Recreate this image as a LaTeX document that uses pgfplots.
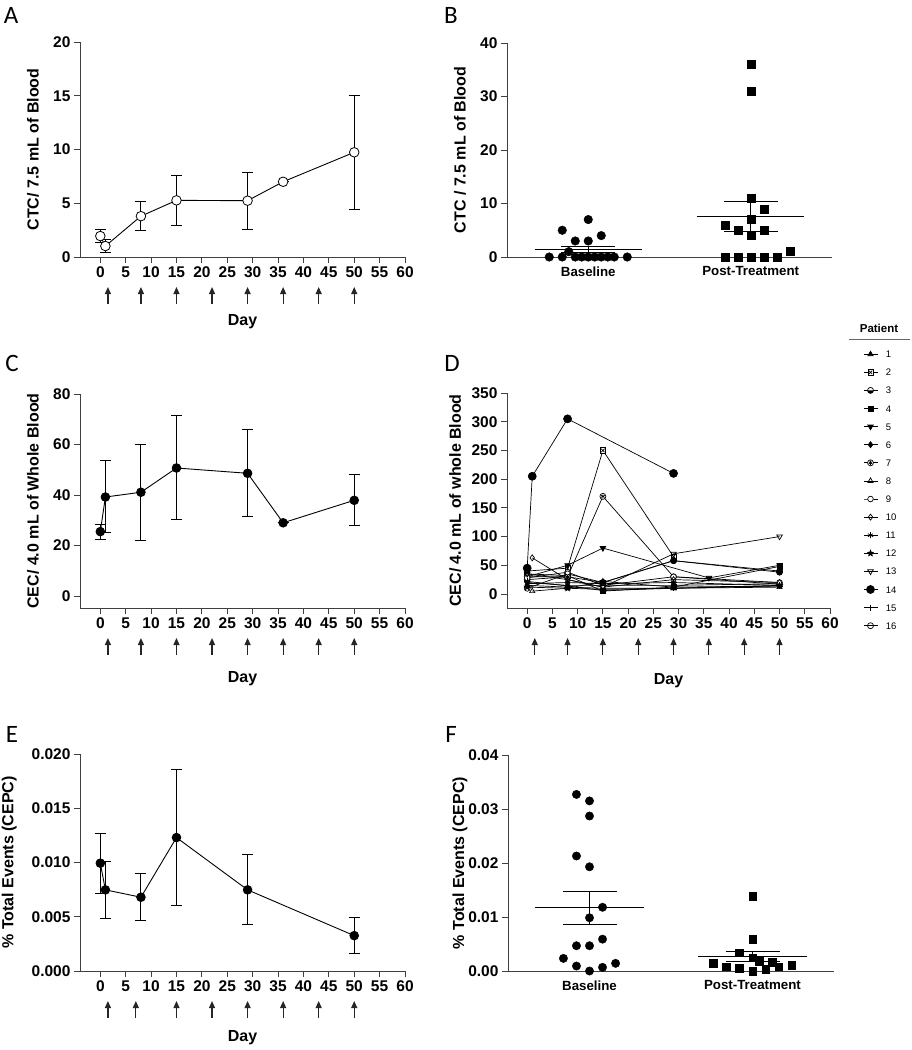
\documentclass[border=0pt]{standalone}
\usepackage{fontspec}
\setmainfont{Liberation Sans}
\newfontfamily\letterfont{Carlito}
\usepackage{pgfplots}
\pgfplotsset{compat=1.18}
\usetikzlibrary{arrows.meta}

% custom marks
\pgfdeclareplotmark{boxx}{%
  \pgfpathrectangle{\pgfpoint{-\pgfplotmarksize}{-\pgfplotmarksize}}{\pgfpoint{2\pgfplotmarksize}{2\pgfplotmarksize}}%
  \pgfusepathqfillstroke
  \pgfpathmoveto{\pgfpoint{-.65\pgfplotmarksize}{-.65\pgfplotmarksize}}\pgfpathlineto{\pgfpoint{.65\pgfplotmarksize}{.65\pgfplotmarksize}}%
  \pgfpathmoveto{\pgfpoint{-.65\pgfplotmarksize}{.65\pgfplotmarksize}}\pgfpathlineto{\pgfpoint{.65\pgfplotmarksize}{-.65\pgfplotmarksize}}%
  \pgfusepathqstroke}
\pgfdeclareplotmark{halfcirc}{%
  \pgfpathcircle{\pgfpointorigin}{\pgfplotmarksize}\pgfusepathqfillstroke
  \pgfpathmoveto{\pgfpoint{-\pgfplotmarksize}{0pt}}%
  \pgfpatharc{180}{360}{\pgfplotmarksize}\pgfpathclose
  \pgfsetfillcolor{black}\pgfusepathqfill}
\pgfdeclareplotmark{circstar}{%
  \pgfpathcircle{\pgfpointorigin}{\pgfplotmarksize}\pgfusepathqfillstroke
  {\pgfplotmarksize=0.7\pgfplotmarksize\pgfuseplotmark{asterisk}}}
\pgfdeclareplotmark{fstar}{%
  \pgfpathmoveto{\pgfpointpolar{90}{\pgfplotmarksize}}%
  \pgfpathlineto{\pgfpointpolar{126}{.45\pgfplotmarksize}}%
  \pgfpathlineto{\pgfpointpolar{162}{\pgfplotmarksize}}%
  \pgfpathlineto{\pgfpointpolar{198}{.45\pgfplotmarksize}}%
  \pgfpathlineto{\pgfpointpolar{234}{\pgfplotmarksize}}%
  \pgfpathlineto{\pgfpointpolar{270}{.45\pgfplotmarksize}}%
  \pgfpathlineto{\pgfpointpolar{306}{\pgfplotmarksize}}%
  \pgfpathlineto{\pgfpointpolar{342}{.45\pgfplotmarksize}}%
  \pgfpathlineto{\pgfpointpolar{18}{\pgfplotmarksize}}%
  \pgfpathlineto{\pgfpointpolar{54}{.45\pgfplotmarksize}}%
  \pgfpathclose\pgfusepathqfillstroke}

\newcommand{\dosearrows}[2]{%
  \pgfplotsinvokeforeach{#2}{%
    \draw[line width=1.2pt, black!85, -{Triangle[length=7pt,width=6pt]}]
      ([yshift=-47pt]axis cs:##1,#1) -- ([yshift=-30pt]axis cs:##1,#1);}}

\pgfplotsset{
  gp/.style={
    scale only axis, anchor=south west,
    axis x line*=bottom, axis y line*=left,
    axis line style={-, line width=0.9pt, black!75},
    every tick/.style={line width=0.9pt, black!75},
    tick align=outside, major tick length=6pt,
    ticklabel style={font=\fontsize{15.5}{15.5}\selectfont\bfseries},
    label style={font=\fontsize{16}{16}\selectfont\bfseries},
    /pgf/number format/assume math mode=true,
    clip=false, scaled ticks=false,
  },
  dayaxis/.style={
    xmin=-4, xmax=60, xtick={0,5,...,60},
  },
  catx/.style={
    xmin=-0.5, xmax=1.5, xtick={0,1},
    xticklabels={Baseline,Post-Treatment},
    x tick label style={font=\fontsize{13.3}{13.3}\selectfont\bfseries},
    major x tick style={draw=none},
  },
  ebar/.style={
    error bars/.cd, y dir=both, y explicit,
    error bar style={line width=0.9pt, black},
    error mark options={rotate=90, mark size=#1, line width=0.9pt, black},
  },
}

\begin{document}
\begin{tikzpicture}
\path[use as bounding box] (0pt,0pt) rectangle (912pt,-1050pt);

% panel letters
\node[font=\letterfont\fontsize{25}{25}\selectfont] at (11pt,-15pt) {A};
\node[font=\letterfont\fontsize{25}{25}\selectfont] at (451pt,-15pt) {B};
\node[font=\letterfont\fontsize{25}{25}\selectfont] at (12pt,-363pt) {C};
\node[font=\letterfont\fontsize{25}{25}\selectfont] at (452pt,-363pt) {D};
\node[font=\letterfont\fontsize{25}{25}\selectfont] at (12pt,-734pt) {E};
\node[font=\letterfont\fontsize{25}{25}\selectfont] at (451pt,-734pt) {F};

% ---------------- A ----------------
\begin{axis}[gp, dayaxis, at={(80pt,-257pt)}, width=325pt, height=215pt,
  ymin=0, ymax=20, ytick={0,5,...,20},
  xlabel={Day}, ylabel={CTC/ 7.5 mL of Blood},
  xlabel style={at={(axis description cs:0.5,-0.302)}, anchor=center},
  ylabel style={at={(axis description cs:-0.145,0.5)}, anchor=center}]
\addplot[line width=0.9pt, black, mark=*, mark size=4.8pt,
  mark options={fill=white, line width=0.8pt}, ebar=5.5pt]
  table[x=x, y=y, y error plus=ep, y error minus=em] {
x y ep em
0 1.95 0.62 0.62
1 1.02 0.62 0.59
8 3.80 1.40 1.35
15 5.27 2.30 2.29
29 5.24 2.66 2.64
36 7.00 0 0
50 9.74 5.26 5.27
};
\dosearrows{0}{1.5,8,15,22,29,36,43,50}
\end{axis}

% ---------------- B ----------------
\begin{axis}[gp, catx, at={(507pt,-257pt)}, width=325pt, height=214pt,
  ymin=0, ymax=40, ytick={0,10,...,40},
  ylabel={CTC / 7.5 mL of Blood},
  ylabel style={at={(axis description cs:-0.145,0.5)}, anchor=center}]
\addplot[only marks, mark=*, mark size=4.3pt, black] coordinates {
(-0.24,0) (-0.16,0) (-0.08,0) (-0.04,0) (0,0) (0.04,0) (0.08,0) (0.12,0) (0.16,0) (0.24,0)
(-0.12,1) (-0.08,3) (0,3) (0.08,4) (-0.16,5) (0,7)};
\addplot[only marks, mark=square*, mark size=4pt, black] coordinates {
(1,36) (1,31) (1,11) (1.08,9) (1,7) (0.84,6) (0.92,5) (1.08,5) (1,4) (1.24,1)
(0.84,0) (0.92,0) (1,0) (1.08,0) (1.16,0)};
\addplot[line width=0.9pt, black] coordinates {(-0.33,1.44) (0.33,1.44)};
\addplot[line width=0.9pt, black] coordinates {(0.67,7.63) (1.33,7.63)};
\addplot[no marks, ebar=27pt] coordinates {(0,1.44) +- (0,0.5)};
\addplot[no marks, ebar=27pt] coordinates {(1,7.63) +- (0,2.8)};
\end{axis}

% ---------------- C ----------------
\begin{axis}[gp, dayaxis, at={(80pt,-608pt)}, width=325pt, height=214pt,
  ymin=-4.75, ymax=80, ytick={0,20,...,80},
  xlabel={Day}, ylabel={CEC/ 4.0 mL of Whole Blood},
  xlabel style={at={(axis description cs:0.5,-0.33)}, anchor=center},
  ylabel style={at={(axis description cs:-0.145,0.5)}, anchor=center}]
\addplot[line width=0.9pt, black, mark=*, mark size=4.3pt, ebar=5.5pt]
  table[x=x, y=y, y error plus=ep, y error minus=em] {
x y ep em
0 25.5 3.0 3.1
1 39.2 14.4 14.1
8 41.1 19.1 18.9
15 50.7 20.7 20.5
29 48.6 17.4 17.2
36 29.0 0 0
50 37.9 10.3 9.9
};
\dosearrows{-4.75}{1.5,8,15,22,29,36,43,50}
\end{axis}

% ---------------- D ----------------
\begin{axis}[gp, dayaxis, at={(507pt,-608pt)}, width=323pt, height=215pt,
  ymin=-24.4, ymax=350, ytick={0,50,...,350},
  xlabel={Day}, ylabel={CEC/ 4.0 mL of whole Blood},
  xlabel style={at={(axis description cs:0.5,-0.34)}, anchor=center},
  ylabel style={at={(axis description cs:-0.16,0.5)}, anchor=center},
  every axis plot/.append style={line width=0.7pt, black},
  legend style={at={(axis description cs:1.102,1.2047)}, anchor=north west,
    draw=none, fill=none, inner sep=0pt,
    font=\fontsize{9.5}{9.5}\selectfont,
    row sep=8.1pt, column sep=8pt,
    nodes={inner sep=0pt, text height=7pt, text depth=0pt}},
  legend cell align=left,
  legend image code/.code={\path[draw=none, fill=none] (0pt,-5pt) rectangle (14pt,5pt);
    \draw[mark repeat=2, mark phase=2, #1] plot coordinates {(0pt,0pt) (7pt,0pt) (14pt,0pt)};}]
\addplot[mark=triangle*, mark size=3pt, mark options={solid}] coordinates {(0,15) (8,12) (15,10) (29,10) (50,15)};
\addlegendentry{1}
\addplot[mark=boxx, mark size=2.6pt, mark options={solid, fill=white}] coordinates {(0,40) (8,45) (15,250) (29,65)};
\addlegendentry{2}
\addplot[mark=halfcirc, mark size=3pt, mark options={solid, fill=white}] coordinates {(0,25) (8,30) (15,20) (29,58) (50,38)};
\addlegendentry{3}
\addplot[mark=square*, mark size=2.6pt, mark options={solid}] coordinates {(0,35) (8,32) (15,5) (29,12) (50,48)};
\addlegendentry{4}
\addplot[mark=triangle*, mark size=3.2pt, mark options={solid, rotate=180}] coordinates {(0,30) (8,50) (15,80) (36,28) (50,50)};
\addlegendentry{5}
\addplot[mark=diamond*, mark size=3pt, mark options={solid}] coordinates {(0,20) (8,15) (15,15) (29,15) (50,18)};
\addlegendentry{6}
\addplot[mark=circstar, mark size=3pt, mark options={solid, fill=white}] coordinates {(0,30) (8,30) (15,170) (29,30) (50,17)};
\addlegendentry{7}
\addplot[mark=triangle, mark size=3pt, mark options={solid, fill=white}] coordinates {(1,5) (8,10) (15,8) (29,10) (50,12)};
\addlegendentry{8}
\addplot[mark=*, mark size=2.8pt, mark options={solid, fill=white}] coordinates {(0,28) (8,38) (15,15) (29,30) (50,20)};
\addlegendentry{9}
\addplot[mark=diamond, mark size=3pt, mark options={solid, fill=white}] coordinates {(1,63) (8,25) (15,12) (29,25) (50,20)};
\addlegendentry{10}
\addplot[mark=asterisk, mark size=3pt, mark options={solid}] coordinates {(0,18) (8,20) (15,18) (29,20) (50,15)};
\addlegendentry{11}
\addplot[mark=fstar, mark size=3pt, mark options={solid, fill=black}] coordinates {(0,12) (8,10) (15,22) (29,12) (50,14)};
\addlegendentry{12}
\addplot[mark=triangle, mark size=3.2pt, mark options={solid, fill=white, rotate=180}] coordinates {(0,35) (8,25) (15,12) (29,70) (50,100)};
\addlegendentry{13}
\addplot[mark=*, mark size=4pt, mark options={solid, fill=black}] coordinates {(0,45) (1,205) (8,305) (29,210)};
\addlegendentry{14}
\addplot[mark=+, mark size=3pt, mark options={solid}] coordinates {(0,22) (8,14) (15,6) (29,10) (50,14)};
\addlegendentry{15}
\addplot[mark=o, mark size=3pt, mark options={solid}] coordinates {(0,10) (8,35) (15,20) (29,58) (50,40)};
\addlegendentry{16}
\dosearrows{-24.4}{1.5,8,15,22,29,36,43,50}
\end{axis}

\node[font=\fontsize{11.5}{11.5}\selectfont\bfseries] at (879pt,-328pt) {Patient};
\draw[line width=0.8pt, black!60] (849pt,-339pt) -- (910pt,-339pt);

% ---------------- E ----------------
\begin{axis}[gp, dayaxis, at={(80pt,-971pt)}, width=325pt, height=217pt,
  ymin=0, ymax=0.02, ytick={0,0.005,0.01,0.015,0.02},
  yticklabel style={/pgf/number format/.cd, fixed, fixed zerofill, precision=3},
  xlabel={Day}, ylabel={\% Total Events (CEPC)},
  xlabel style={at={(axis description cs:0.5,-0.309)}, anchor=center},
  ylabel style={at={(axis description cs:-0.218,0.5)}, anchor=center}]
\addplot[line width=0.9pt, black, mark=*, mark size=4.3pt, ebar=5.5pt]
  table[x=x, y=y, y error plus=ep, y error minus=em] {
x y ep em
0 0.00994 0.00276 0.00280
1 0.00748 0.00262 0.00262
8 0.00680 0.00218 0.00215
15 0.01230 0.00628 0.00627
29 0.00748 0.00329 0.00317
50 0.00326 0.00166 0.00160
};
\dosearrows{0}{1.5,7,15,22,29,36,43,50}
\end{axis}

% ---------------- F ----------------
\begin{axis}[gp, catx, at={(508pt,-971pt)}, width=326pt, height=216pt,
  ymin=0, ymax=0.04, ytick={0,0.01,0.02,0.03,0.04},
  yticklabel style={/pgf/number format/.cd, fixed, fixed zerofill, precision=2},
  ylabel={\% Total Events (CEPC)},
  ylabel style={at={(axis description cs:-0.147,0.5)}, anchor=center}]
\addplot[only marks, mark=*, mark size=4.2pt, black] coordinates {
(-0.08,0.0327) (0,0.0315) (0,0.0287) (-0.08,0.0213) (0,0.0193) (0.08,0.0118)
(0,0.00986) (0.08,0.0059) (-0.08,0.00468) (0,0.00468) (-0.16,0.00234)
(-0.08,0.00092) (0.08,0.00068) (0.16,0.00142) (0,0.0)};
\addplot[only marks, mark=square*, mark size=3.8pt, black] coordinates {
(1,0.01387) (1,0.0059) (0.92,0.0034) (0.76,0.00142) (0.84,0.0008) (0.92,0.0005)
(1,0.0025) (1,0.0) (1.04,0.0018) (1.08,0.0003) (1.12,0.0016) (1.16,0.0008) (1.24,0.0011)};
\addplot[line width=0.9pt, black] coordinates {(-0.333,0.01171) (0.333,0.01171)};
\addplot[line width=0.9pt, black] coordinates {(0.666,0.00265) (1.334,0.00265)};
\addplot[no marks, ebar=27pt] coordinates {(0,0.01171) +- (0,0.00308)};
\addplot[no marks, ebar=27pt] coordinates {(1,0.00265) +- (0,0.00092)};
\end{axis}
\end{tikzpicture}
\end{document}
